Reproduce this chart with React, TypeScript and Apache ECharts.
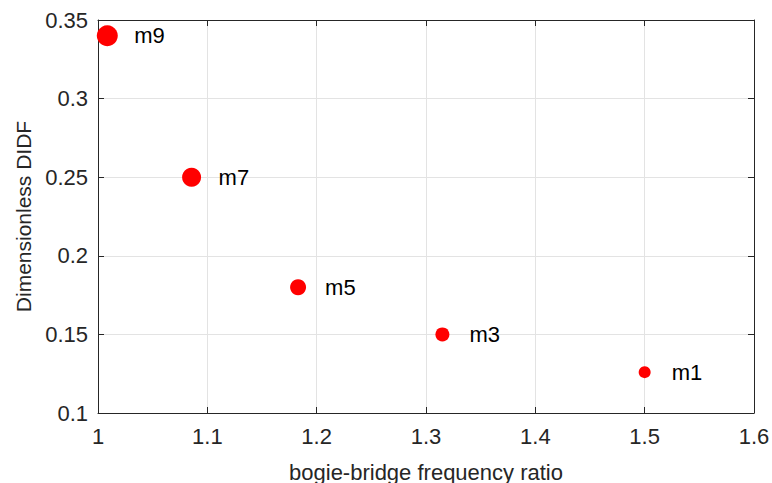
import React, { useEffect, useRef } from "react";
import * as echarts from "echarts";

const modes = ["m9", "m7", "m5", "m3", "m1"];
const frequencyRatio = [1.0085, 1.0856, 1.183, 1.315, 1.5];
const didf = [0.34, 0.25, 0.18, 0.15, 0.126];
const markerSize = [21, 19, 16, 14, 12];

const xTicks = [1, 1.1, 1.2, 1.3, 1.4, 1.5, 1.6];
const yTicks = [0.1, 0.15, 0.2, 0.25, 0.3, 0.35];

export default function App() {
  const ref = useRef<HTMLDivElement>(null);
  useEffect(() => {
    if (!ref.current) return;
    const chart = echarts.init(ref.current, null, { renderer: "svg" });
    const font = "Liberation Sans, Arial, sans-serif";
    const axisCommon = {
      axisLine: { show: true, lineStyle: { color: "#262626", width: 1 } },
      axisTick: { show: true, inside: true, length: 6, lineStyle: { color: "#262626" } },
    };
    chart.setOption({
      animation: false,
      textStyle: { fontFamily: font },
      grid: {
        left: 98,
        top: 20,
        right: 18,
        bottom: 70,
        show: false,
        containLabel: false,
        outerBoundsMode: "none",
      },
      xAxis: [
        {
          type: "value",
          min: xTicks[0],
          max: xTicks[xTicks.length - 1],
          interval: 0.1,
          ...axisCommon,
          axisLabel: {
            color: "#262626",
            fontSize: 22,
            margin: 12,
            fontFamily: font,
            formatter: (v: number) => String(Math.round(v * 10) / 10),
          },
          splitLine: { show: true, lineStyle: { color: "#e3e3e3" } },
          name: "bogie-bridge frequency ratio",
          nameLocation: "middle",
          nameGap: 48,
          nameTextStyle: { color: "#262626", fontSize: 22, fontFamily: font },
        },
        {
          type: "value",
          position: "top",
          min: xTicks[0],
          max: xTicks[xTicks.length - 1],
          interval: 0.1,
          ...axisCommon,
          axisLabel: { show: false },
          splitLine: { show: false },
        },
      ],
      yAxis: [
        {
          type: "value",
          min: yTicks[0],
          max: yTicks[yTicks.length - 1],
          interval: 0.05,
          ...axisCommon,
          axisLabel: {
            color: "#262626",
            fontSize: 22,
            margin: 10,
            fontFamily: font,
            formatter: (v: number) => String(Math.round(v * 100) / 100),
          },
          splitLine: { show: true, lineStyle: { color: "#e3e3e3" } },
          name: "Dimensionless DIDF",
          nameLocation: "middle",
          nameGap: 64,
          nameTextStyle: { color: "#262626", fontSize: 21, fontFamily: font },
        },
        {
          type: "value",
          position: "right",
          min: yTicks[0],
          max: yTicks[yTicks.length - 1],
          interval: 0.05,
          ...axisCommon,
          axisLabel: { show: false },
          splitLine: { show: false },
        },
      ],
      series: [
        {
          type: "scatter",
          data: frequencyRatio.map((x, i) => ({
            value: [x, didf[i]],
            name: modes[i],
            symbolSize: markerSize[i],
            label: { offset: [27 - markerSize[i] / 2, 0] },
          })),
          itemStyle: { color: "#ff0000", opacity: 1 },
          label: {
            show: true,
            position: "right",
            distance: 0,
            formatter: (p: any) => p.name,
            color: "#000000",
            fontSize: 22,
            fontFamily: font,
          },
        },
      ],
    });
    return () => chart.dispose();
  }, []);
  return (
    <div
      ref={ref}
      style={{ position: "fixed", left: 0, top: 0, width: 772, height: 483, background: "#ffffff" }}
    />
  );
}
